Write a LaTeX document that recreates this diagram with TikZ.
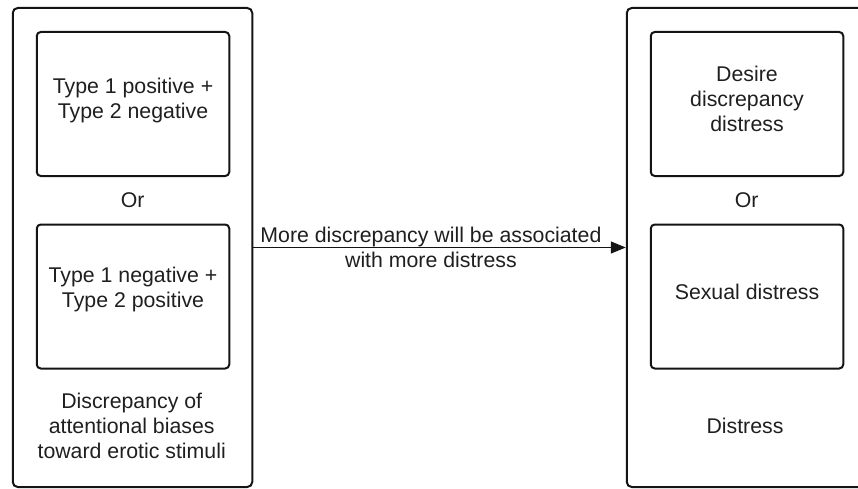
\documentclass[tikz,border=0pt]{standalone}
\usepackage{fontspec}
\setmainfont{Liberation Sans}
\usetikzlibrary{arrows.meta}
% struts that fix the height of the first line and the depth of the last one
\newcommand\topstrut{\rule{0pt}{16pt}}
\newcommand\botstrut{\rule[-11pt]{0pt}{11pt}}
\newcommand\lowstrut{\rule[-18pt]{0pt}{18pt}}
\begin{document}
\begin{tikzpicture}[x=1pt,y=-1pt,
  txt/.style={inner sep=0pt, align=center, text=black!88,
    font={\fontsize{21.3pt}{25pt}\selectfont},
    execute at begin node=\topstrut, execute at end node=\botstrut},
  frame/.style={draw=black!92, line width=2pt, rounded corners=5pt,
    minimum width=239.5pt, minimum height=479pt, inner sep=0pt},
  option/.style={txt, draw=black!92, line width=2pt, rounded corners=4pt,
    minimum width=192.5pt, minimum height=144pt},
  link/.style={draw=black!92, line width=1.3pt, -{Triangle[length=15pt,width=12pt]}}]

\useasboundingbox (0,0) rectangle (858,489);
\clip (0,0) rectangle (858,489);

% left group: the two bias patterns
\node[frame] (lbox) at (132.5,247.5) {};
\node[option] (posneg) at (133,104) {Type 1 positive +\\Type 2 negative};
\node[txt] (orL) at (132.7,204.8) {Or};
\node[option, execute at end node=\lowstrut] (negpos) at (133,296.5) {Type 1 negative +\\Type 2 positive};
\node[txt] (capL) at (131.7,430.8) {Discrepancy of\\attentional biases\\toward erotic stimuli};

% right group: the distress outcomes
\node[frame] (rbox) at (746.5,247.5) {};
\node[option] (desire) at (747,104) {Desire\\discrepancy\\distress};
\node[txt] (orR) at (746.7,204.8) {Or};
\node[option] (sexual) at (747,296.5) {Sexual distress};
\node[txt] (capR) at (745,430.8) {Distress};

% hypothesised association
\draw[link] (lbox.east) -- (rbox.west)
  node[txt, pos=0.477, yshift=-5.5pt] (assoc) {More discrepancy will be associated\\with more distress};
\end{tikzpicture}
\end{document}
